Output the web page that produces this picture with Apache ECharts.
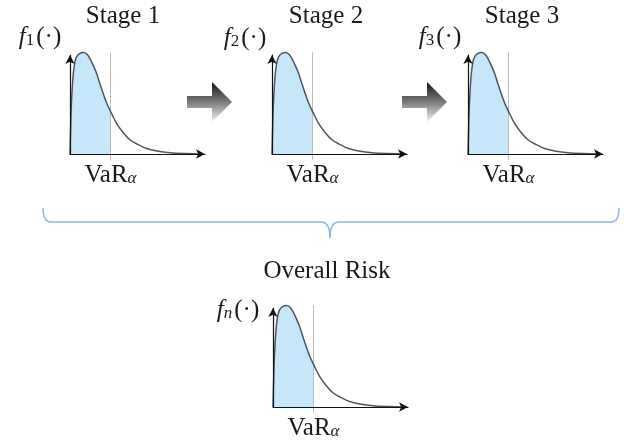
<!DOCTYPE html>
<html>
<head>
<meta charset="utf-8">
<script src="https://cdn.jsdelivr.net/npm/echarts@6/dist/echarts.min.js"></script>
<style>
html,body{margin:0;padding:0;background:#fff;}
#main{width:624px;height:445px;}
</style>
</head>
<body>
<div id="main"></div>
<script>
// ---- data ----
const xs      = [0, 0.074, 0.148, 0.244, 0.37, 0.5, 0.74, 0.99, 1.24, 1.48, 1.73, 1.98, 2.22, 2.47, 2.72, 3.0, 3.46, 3.95, 4.44, 4.94, 5.68, 6.42, 7.41, 8.6, 9.85];
const density = [0, 0.39, 0.61, 0.79, 0.91, 0.96, 0.99, 1.0, 0.985, 0.94, 0.87, 0.79, 0.69, 0.59, 0.50, 0.42, 0.30, 0.21, 0.14, 0.10, 0.054, 0.03, 0.012, 0.004, 0];
const varAlpha = 3.0;
const varLineY = [-0.06, 1.0];
const stageTitles = ['Stage 1', 'Stage 2', 'Stage 3', 'Overall Risk'];
const densitySubs = ['1', '2', '3', 'n'];
const xMax = 10;
const yMax = 0.975;

// ---- layout ----
const FONT = 'Liberation Serif';
const TXT = '#1a1a1a';
const origins = [[70, 154], [272, 154], [468, 154], [273, 407]];
const gw = 135, gh = 99;
const titlePos = [[123, 16], [326, 16], [522, 16], [327, 271]];
const fPos = [[40, 37], [245, 38], [440, 37], [238, 310]];

const curve = xs.map((x, i) => [x, density[i]]);
const varLine = varLineY.map(y => [varAlpha, y]);

const grids = [], xAxes = [], yAxes = [], series = [], visualMaps = [], graphics = [];

origins.forEach((o, k) => {
  grids.push({left: o[0], top: o[1] - gh, width: gw, height: gh, containLabel: false, outerBoundsMode: 'none'});
  xAxes.push({
    type: 'value', gridIndex: k, min: 0, max: xMax, z: 5,
    axisLine: {show: true, onZero: false, symbol: ['none', 'arrow'], symbolSize: [7, 9], lineStyle: {color: '#111', width: 1.2}},
    axisTick: {show: false}, splitLine: {show: false},
    axisLabel: {
      show: true, customValues: [varAlpha], margin: 9,
      formatter: () => '{m|VaR}{a|α}',
      rich: {
        m: {fontFamily: FONT, fontSize: 25, lineHeight: 24, color: TXT},
        a: {fontFamily: FONT, fontSize: 17, lineHeight: 5, fontStyle: 'italic', color: TXT, verticalAlign: 'bottom'}
      }
    }
  });
  yAxes.push({
    type: 'value', gridIndex: k, min: 0, max: yMax, z: 5,
    axisLine: {show: true, onZero: false, symbol: ['none', 'arrow'], symbolSize: [7, 9], lineStyle: {color: '#111', width: 1.2}},
    axisTick: {show: false}, splitLine: {show: false}, axisLabel: {show: false}
  });
  // shaded area up to VaR
  series.push({
    type: 'line', xAxisIndex: k, yAxisIndex: k, data: curve, smooth: 0.3, clip: false,
    showSymbol: false, symbol: 'none', lineStyle: {width: 0, opacity: 0},
    areaStyle: {opacity: 1}, z: 1, silent: true
  });
  visualMaps.push({
    type: 'piecewise', show: false, dimension: 0, seriesIndex: series.length - 1,
    pieces: [{gte: -1, lte: varAlpha, color: '#c6e6f9'}, {gt: varAlpha, lte: 20, color: 'rgba(255,255,255,0)'}]
  });
  // VaR vertical line
  series.push({
    type: 'line', xAxisIndex: k, yAxisIndex: k, data: varLine, clip: false,
    showSymbol: false, symbol: 'none', lineStyle: {color: '#bdbdbd', width: 1}, z: 2, silent: true
  });
  // density curve
  series.push({
    type: 'line', xAxisIndex: k, yAxisIndex: k, data: curve, smooth: 0.3, clip: false,
    showSymbol: false, symbol: 'none', lineStyle: {color: '#4a5663', width: 1.5}, z: 3, silent: true
  });
  graphics.push({
    type: 'text', x: titlePos[k][0], y: titlePos[k][1],
    style: {text: stageTitles[k], fontFamily: FONT, fontSize: 25, fill: TXT, align: 'center', verticalAlign: 'middle'}
  });
  graphics.push({
    type: 'text', x: fPos[k][0], y: fPos[k][1],
    style: {
      text: '{f|f}{s|' + densitySubs[k] + '}{p|(·)}', align: 'center', verticalAlign: 'middle',
      rich: {
        f: {fontFamily: FONT, fontSize: 25, fontStyle: 'italic', fill: TXT, lineHeight: 24},
        s: {fontFamily: FONT, fontSize: 17, fill: TXT, lineHeight: 14, verticalAlign: 'bottom', fontStyle: densitySubs[k] === 'n' ? 'italic' : 'normal'},
        p: {fontFamily: FONT, fontSize: 25, fill: TXT, lineHeight: 24, padding: [0, 0, 0, 2]}
      }
    }
  });
});

// block arrows between stages
const arrowX = [187, 402];
arrowX.forEach(ax => {
  graphics.push({
    type: 'polygon',
    shape: {points: [[ax, 96], [ax + 25, 96], [ax + 25, 82], [ax + 45, 102], [ax + 25, 122], [ax + 25, 108], [ax, 108]]},
    style: {
      fill: new echarts.graphic.LinearGradient(0, 0, 0, 1, [
        {offset: 0, color: '#151515'}, {offset: 0.5, color: '#7a7a7a'}, {offset: 1, color: '#f4f4f4'}
      ])
    }
  });
});

// brace
const braceStyle = {fill: 'none', stroke: '#8db7dc', lineWidth: 1.5};
graphics.push(
  {type: 'bezierCurve', shape: {x1: 43, y1: 208, cpx1: 43, cpy1: 222, x2: 51, y2: 222}, style: braceStyle},
  {type: 'line', shape: {x1: 51, y1: 222, x2: 321, y2: 222}, style: braceStyle},
  {type: 'bezierCurve', shape: {x1: 321, y1: 222, cpx1: 330, cpy1: 222, x2: 330, y2: 238}, style: braceStyle},
  {type: 'bezierCurve', shape: {x1: 330, y1: 238, cpx1: 330, cpy1: 222, x2: 339, y2: 222}, style: braceStyle},
  {type: 'line', shape: {x1: 339, y1: 222, x2: 611, y2: 222}, style: braceStyle},
  {type: 'bezierCurve', shape: {x1: 611, y1: 222, cpx1: 619, cpy1: 222, x2: 619, y2: 208}, style: braceStyle}
);

const chart = echarts.init(document.getElementById('main'), null, {renderer: 'canvas'});
chart.setOption({
  animation: false,
  backgroundColor: '#fff',
  grid: grids, xAxis: xAxes, yAxis: yAxes,
  visualMap: visualMaps,
  series: series,
  graphic: graphics
});
</script>
</body>
</html>
